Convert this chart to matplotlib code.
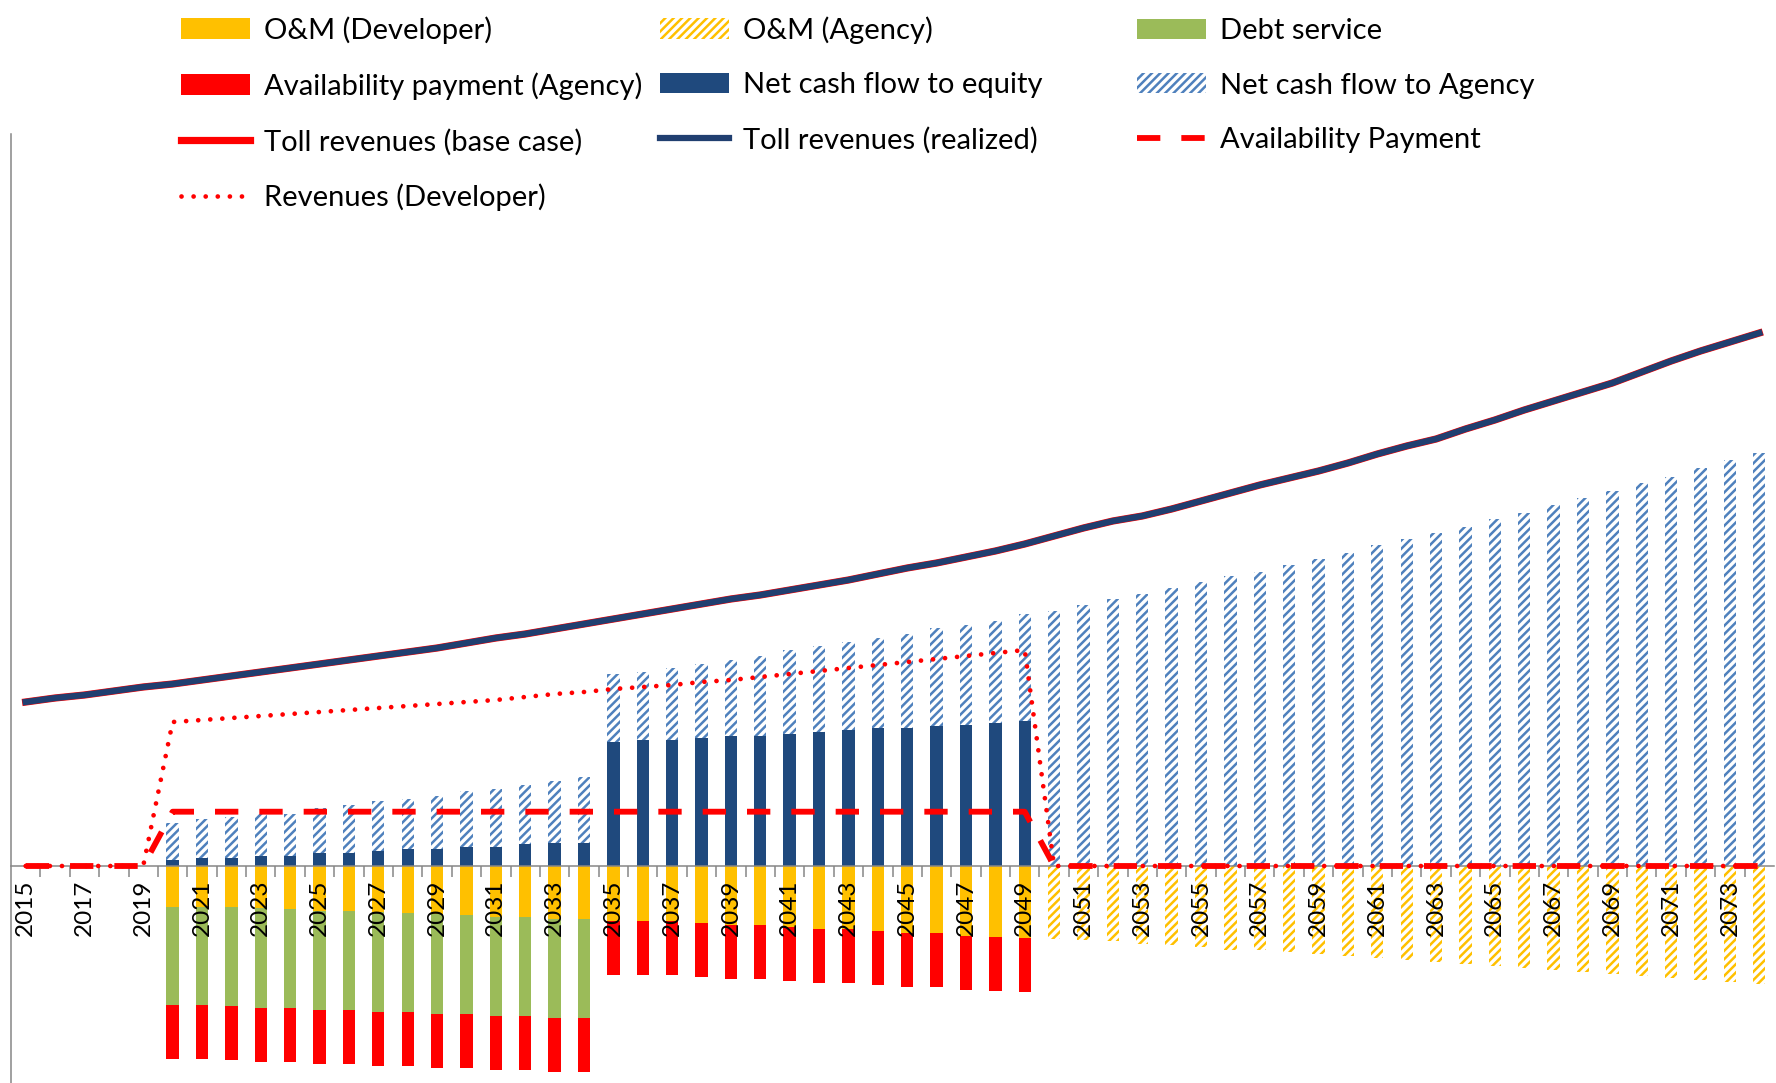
import numpy as np
import matplotlib.pyplot as plt

plt.rcParams['font.family'] = ['Lato', 'DejaVu Sans']
plt.rcParams['hatch.linewidth'] = 1.8

years = list(range(2015, 2075))

# Negative stack (costs)
om_developer = [0] * 5 + [4.1, 4.1, 4.1, 4.2, 4.3, 4.5, 4.5, 4.6, 4.7, 4.8,
                          4.9, 5.1, 5.1, 5.3, 5.3, 5.5, 5.5, 5.5, 5.7, 5.9,
                          5.9, 6.1, 6.3, 6.3, 6.5, 6.7, 6.7, 7.0, 7.1, 7.2] + [0] * 25
debt_service = [0] * 5 + [9.8, 9.8, 9.9, 9.95, 9.9, 9.85, 9.85, 10.0, 9.9, 9.95,
                          9.85, 9.85, 9.85, 9.85, 9.85] + [0] * 40
avail_agency = [0] * 5 + [5.43] * 30 + [0] * 25
om_agency = [0] * 35 + [7.27, 7.43, 7.5, 7.77, 7.93, 8.1, 8.37, 8.43, 8.6, 8.77,
                        9.03, 9.17, 9.43, 9.6, 9.77, 10.0, 10.17, 10.37, 10.6, 10.83,
                        11.03, 11.2, 11.43, 11.6, 11.83]

# Positive stack
equity_cf = [0] * 5 + [0.6, 0.85, 0.85, 1.05, 1.0, 1.3, 1.27, 1.53, 1.67, 1.73,
                       1.9, 1.9, 2.17, 2.3, 2.33, 12.4, 12.6, 12.6, 12.8, 12.97,
                       13.0, 13.2, 13.4, 13.6, 13.77, 13.8, 13.97, 14.1, 14.27, 14.5] + [0] * 25
agency_cf = [0] * 5 + [3.7, 3.82, 4.02, 4.12, 4.25, 4.53, 4.8, 5.0, 5.06, 5.3,
                       5.63, 5.8, 5.93, 6.2, 6.57, 6.8, 6.8, 7.2, 7.4, 7.63,
                       8.0, 8.4, 8.6, 8.8, 9.03, 9.4, 9.83, 10.0, 10.23, 10.7,
                       25.5, 26.1, 26.7, 27.2, 27.8, 28.4, 29.0, 29.4, 30.1, 30.7,
                       31.3, 32.1, 32.7, 33.3, 33.9, 34.7, 35.3, 36.1, 36.8, 37.5,
                       38.3, 38.9, 39.8, 40.6, 41.3]

# Lines
toll_realized = [16.4, 16.8, 17.1, 17.5, 17.9, 18.2, 18.6, 19.0, 19.4, 19.8,
                 20.2, 20.6, 21.0, 21.4, 21.8, 22.3, 22.8, 23.2, 23.7, 24.2,
                 24.7, 25.2, 25.7, 26.2, 26.7, 27.1, 27.6, 28.1, 28.6, 29.2,
                 29.8, 30.3, 30.9, 31.5, 32.2, 33.0, 33.8, 34.5, 35.0, 35.7,
                 36.5, 37.3, 38.1, 38.8, 39.5, 40.3, 41.2, 42.0, 42.7, 43.7,
                 44.6, 45.6, 46.5, 47.4, 48.3, 49.4, 50.5, 51.5, 52.4, 53.3]
toll_base = list(toll_realized)  # hidden right under the realized line
avail_payment = [0] * 5 + [5.43] * 30 + [0] * 25
revenues_dev = [0] * 5 + [14.4, 14.6, 14.8, 15.0, 15.2, 15.4, 15.6, 15.8, 16.0, 16.2,
                          16.4, 16.6, 16.9, 17.2, 17.4, 17.7, 17.9, 18.1, 18.4, 18.6,
                          18.9, 19.2, 19.5, 19.8, 20.1, 20.4, 20.7, 21.0, 21.3, 21.6] + [0] * 25

x = np.arange(len(years))
om_dev = np.array(om_developer)
debt = np.array(debt_service)
w = 0.42

fig = plt.figure(figsize=(17.76, 10.83), dpi=100)
ax = fig.add_axes([11 / 1776, 0.0, 1763 / 1776, 1 - 134 / 1083])

b_omd = ax.bar(x, -om_dev, w, color='#FFC000', lw=0)
b_debt = ax.bar(x, -debt, w, bottom=-om_dev, color='#9BBB59', lw=0)
b_av = ax.bar(x, -np.array(avail_agency), w, bottom=-(om_dev + debt), color='#FF0000', lw=0)
b_oma = ax.bar(x, -np.array(om_agency), w, color='white', edgecolor='#FFC000', hatch='////', lw=0)
b_eq = ax.bar(x, equity_cf, w, color='#1F497D', lw=0)
b_ag = ax.bar(x, agency_cf, w, bottom=equity_cf, color='white', edgecolor='#4F81BD', hatch='////', lw=0)

l_av, = ax.plot(x, avail_payment, color='#FF0000', lw=4.2, dashes=(4.0, 3.6), zorder=4)
l_rev, = ax.plot(x, revenues_dev, color='#FF0000', lw=3.4, dashes=(0.01, 2.55),
                 dash_capstyle='round', zorder=4)
l_base, = ax.plot(x, toll_base, color='#FF0000', lw=5.2, zorder=5)
l_real, = ax.plot(x, toll_realized, color='#203F70', lw=4.5, zorder=6)

ax.set_xlim(-0.5, len(years) - 0.5)
ax.set_ylim(-21.7, 73.2)

for s in ['top', 'right']:
    ax.spines[s].set_visible(False)
ax.spines['bottom'].set_position(('data', 0))
for s in ['bottom', 'left']:
    ax.spines[s].set_color('#868686')
    ax.spines[s].set_linewidth(1.1)
ax.set_yticks([])

ax.set_xticks(x[::2])
ax.set_xticklabels([str(y) for y in years[::2]], rotation=90, fontsize=17.5)
ax.set_xticks(x[:-1] + 0.5, minor=True)
ax.tick_params(axis='x', which='major', length=0, pad=10)
ax.tick_params(axis='x', which='minor', length=8, width=1.1, color='#868686', direction='out')

# legend: three columns, placed like the original
cols = [
    ([b_omd, b_av, l_base, l_rev],
     ['O&M (Developer)', 'Availability payment (Agency)', 'Toll revenues (base case)', 'Revenues (Developer)']),
    ([b_oma, b_eq, l_real],
     ['O&M (Agency)', 'Net cash flow to equity', 'Toll revenues (realized)']),
    ([b_debt, b_ag, l_av],
     ['Debt service', 'Net cash flow to Agency', 'Availability Payment']),
]
for (h, lab), xa, ya in zip(cols, [181, 660, 1137], [16, 16, 18]):
    fig.legend(h, lab, loc='upper left', bbox_to_anchor=(xa / 1776, 1 - ya / 1083),
               frameon=False, fontsize=21, handlelength=2.38, handleheight=0.69,
               handletextpad=0.45, labelspacing=0.98, borderpad=0, borderaxespad=0)

fig.savefig('out.png', dpi=100)
